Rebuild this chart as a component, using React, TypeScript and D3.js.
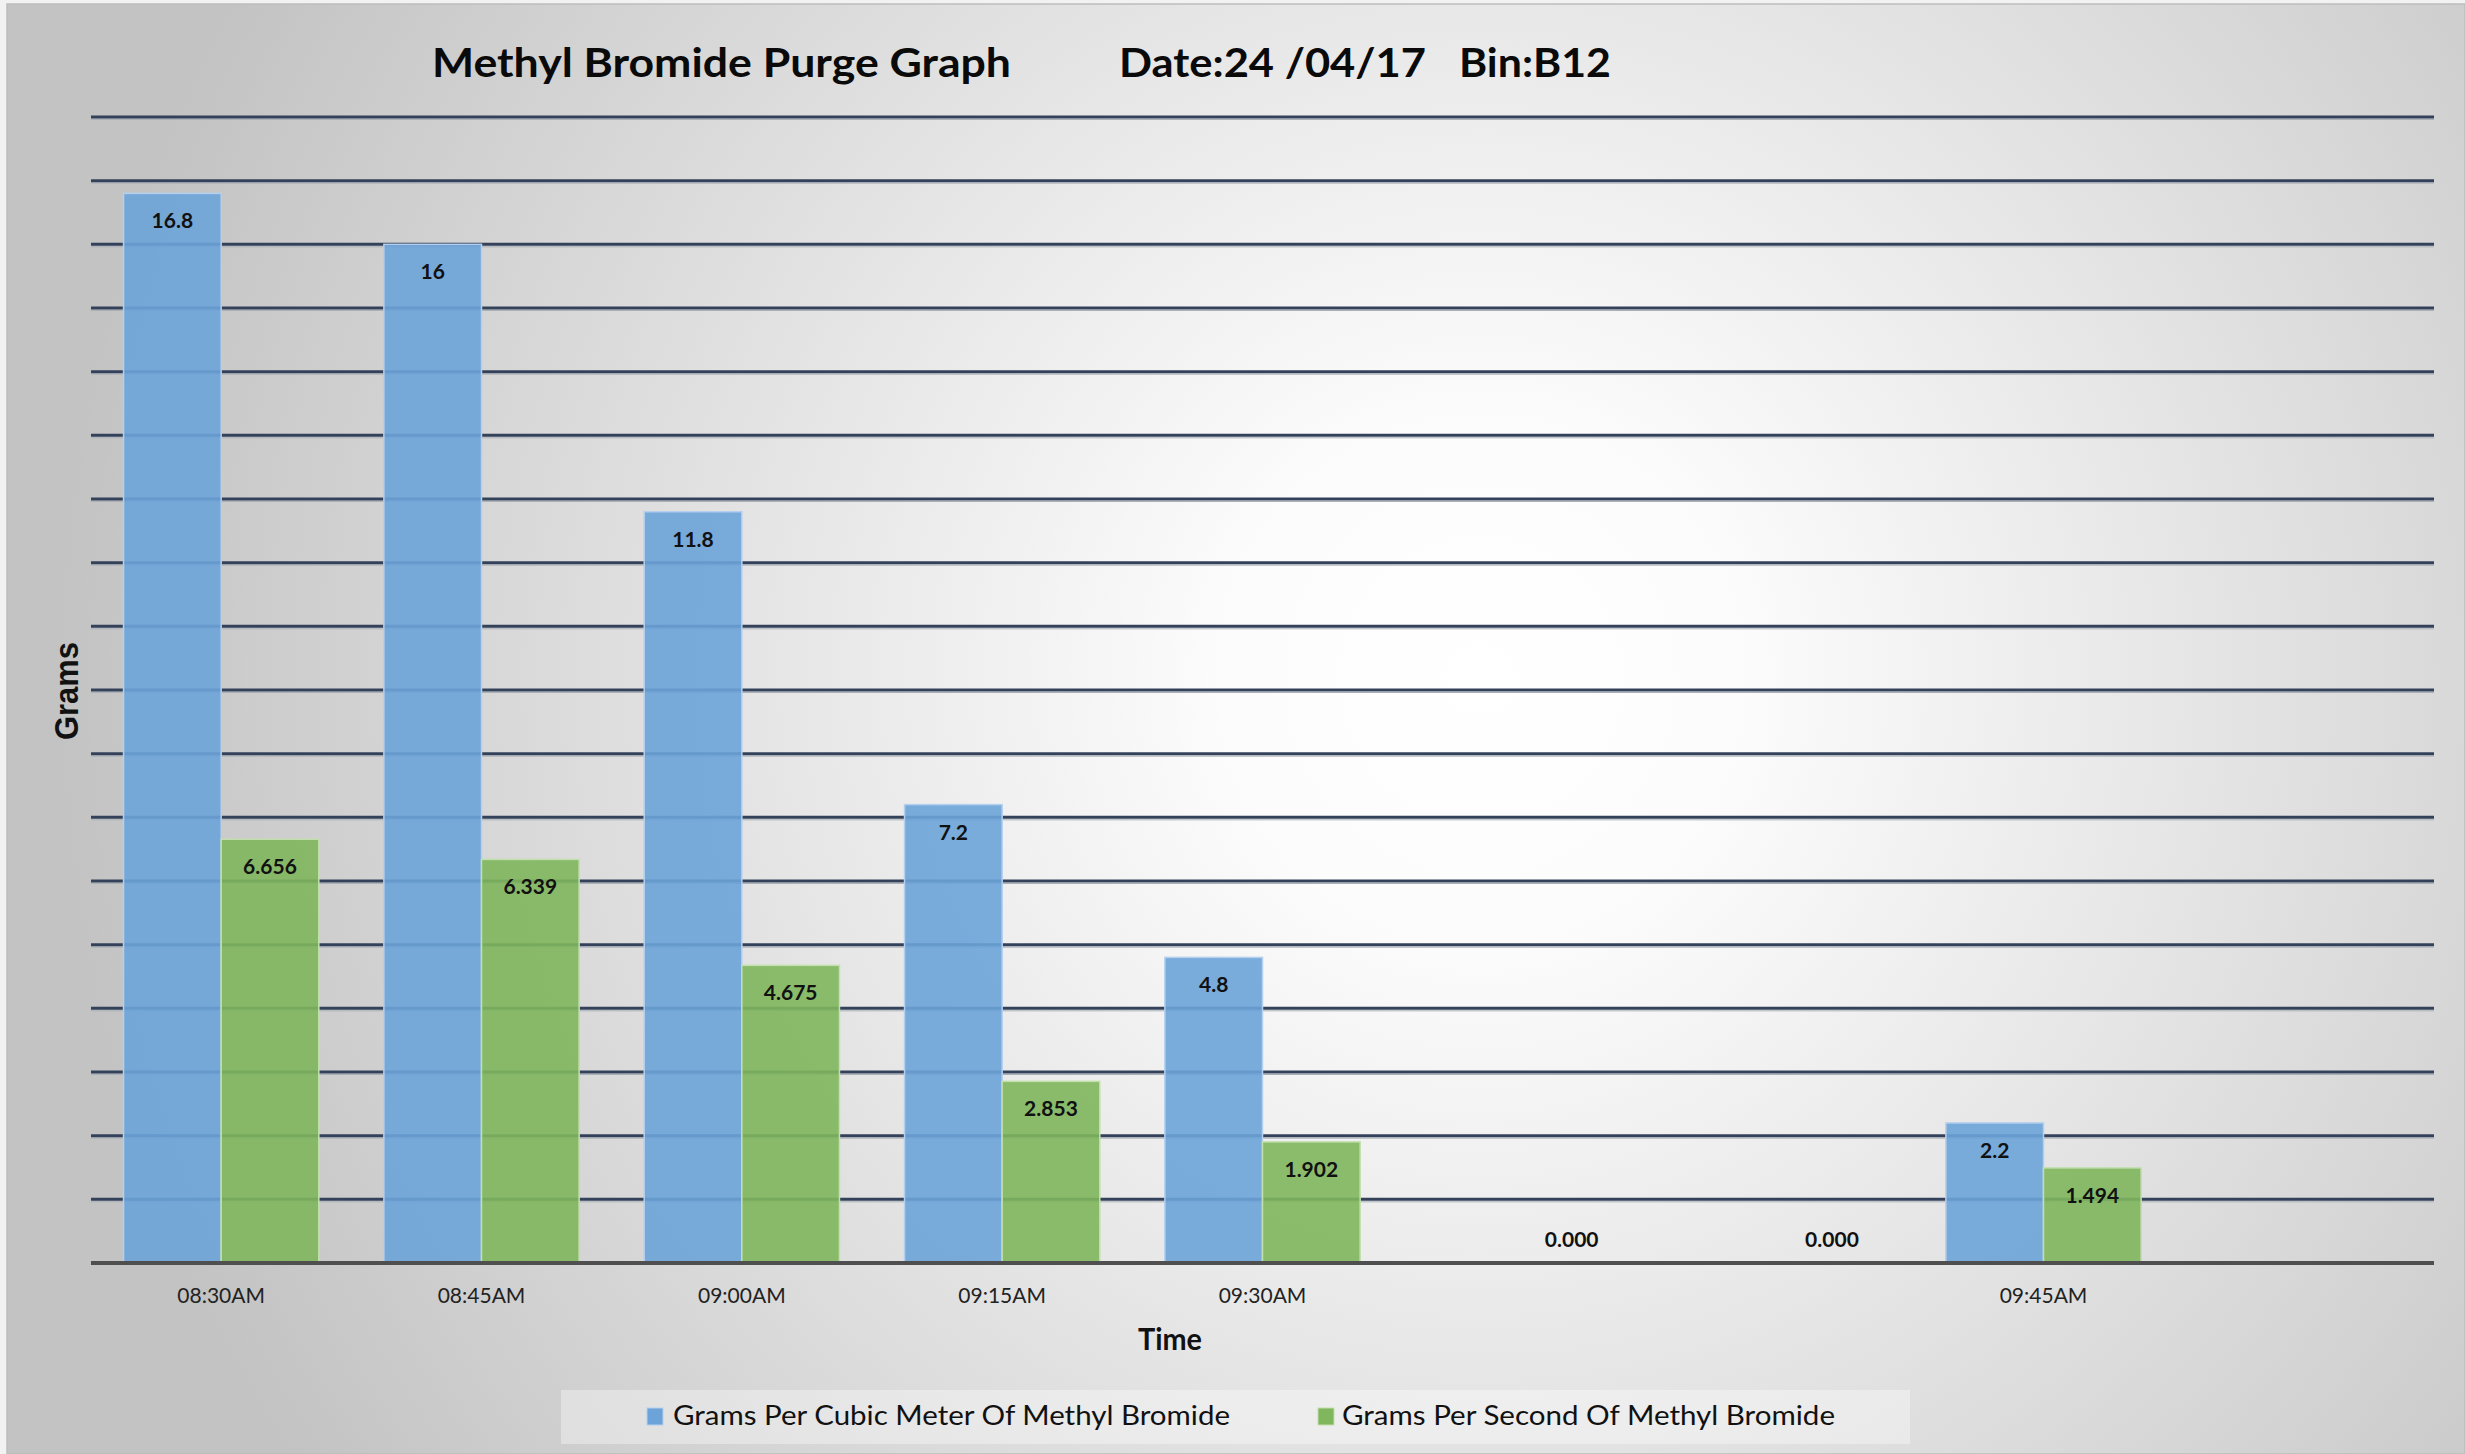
import React, { useCallback, useEffect, useRef } from "react";
import * as d3 from "d3";

// tick labels for the time axis (empty slots have no label)
const timeLabels = [
  "08:30AM",
  "08:45AM",
  "09:00AM",
  "09:15AM",
  "09:30AM",
  "",
  "",
  "09:45AM",
  "",
];

// series values, null where nothing was recorded
const perCubicMeter: Array<number | null> = [16.8, 16, 11.8, 7.2, 4.8, null, null, 2.2, null];
const perSecond: Array<number | null> = [6.656, 6.339, 4.675, 2.853, 1.902, 0, 0, 1.494, null];

const seriesNames = [
  "Grams Per Cubic Meter Of Methyl Bromide",
  "Grams Per Second Of Methyl Bromide",
];

const yTicks = d3.range(0, 19);

const W = 2465;
const H = 1454;

const BLUE = "#6ca3d8";
const GREEN = "#80b65d";

/**
 * Methyl bromide purge chart
 */
const PurgeChart = () => {
  const svgRef = useRef<SVGSVGElement>(null);

  const renderChart = useCallback(() => {
    // clear the chart before rendering it
    d3.select(svgRef.current).selectChildren().remove();

    const margin = { top: 117, right: 31, bottom: 191, left: 91 };
    const width = W - margin.left - margin.right,
      height = H - margin.top - margin.bottom;

    const root = d3.select(svgRef.current).attr("width", W).attr("height", H);

    // background gradient
    const defs = root.append("defs");
    const grad = defs
      .append("radialGradient")
      .attr("id", "bg")
      .attr("gradientUnits", "userSpaceOnUse")
      .attr("cx", 1480)
      .attr("cy", 680)
      .attr("r", 1420);
    grad.append("stop").attr("offset", 0).attr("stop-color", "#ffffff");
    grad.append("stop").attr("offset", 0.18).attr("stop-color", "#fcfcfc");
    grad.append("stop").attr("offset", 1).attr("stop-color", "#c3c3c3");

    root.append("rect").attr("width", W).attr("height", H).attr("fill", "#f2f2f2");
    root
      .append("rect")
      .attr("x", 7)
      .attr("y", 4)
      .attr("width", W - 7)
      .attr("height", H - 4)
      .attr("fill", "url(#bg)")
      .attr("stroke", "#bdbdbd")
      .attr("stroke-width", 1.5);

    const svg = root
      .append("g")
      .attr("transform", "translate(" + margin.left + "," + margin.top + ")");

    // x scales: one band per time slot, one sub band per series
    const x0 = d3
      .scaleBand<number>()
      .domain(d3.range(timeLabels.length))
      .range([0, width])
      .paddingInner(0.25)
      .paddingOuter(0.125);
    const x1 = d3
      .scaleBand<number>()
      .domain([0, 1])
      .range([0, x0.bandwidth()]);

    const y = d3.scaleLinear().domain([0, 18]).range([height, 0]);

    // gridlines
    const grid = svg.append("g");
    grid
      .selectAll("line.shadow")
      .data(yTicks.filter((t) => t > 0))
      .enter()
      .append("line")
      .attr("class", "shadow")
      .attr("x1", 0)
      .attr("x2", width)
      .attr("y1", (d) => y(d) + 2.5)
      .attr("y2", (d) => y(d) + 2.5)
      .attr("stroke", "#a9b0b8")
      .attr("stroke-width", 1);
    grid
      .selectAll("line.major")
      .data(yTicks.filter((t) => t > 0))
      .enter()
      .append("line")
      .attr("class", "major")
      .attr("x1", 0)
      .attr("x2", width)
      .attr("y1", (d) => y(d))
      .attr("y2", (d) => y(d))
      .attr("stroke", "#33425a")
      .attr("stroke-width", 3);

    // bars
    const series = [perCubicMeter, perSecond];
    const colors = [BLUE, GREEN];
    const edges = ["#b4d0ee", "#c2dfae"];

    const bars = series.flatMap((vals, s) =>
      vals.map((v, i) => ({ s, i, v }))
    );

    svg
      .append("g")
      .selectAll("rect")
      .data(bars.filter((d) => d.v !== null && (d.v as number) > 0))
      .enter()
      .append("rect")
      .attr("x", (d) => (x0(d.i) as number) + (x1(d.s) as number))
      .attr("y", (d) => y(d.v as number))
      .attr("width", x1.bandwidth())
      .attr("height", (d) => y(0) - y(d.v as number))
      .attr("fill", (d) => colors[d.s])
      .attr("fill-opacity", 0.9)
      .attr("stroke", (d) => edges[d.s])
      .attr("stroke-width", 1.5);

    // axis baseline
    svg
      .append("line")
      .attr("x1", 0)
      .attr("x2", width)
      .attr("y1", y(0))
      .attr("y2", y(0))
      .attr("stroke", "#4f4f4f")
      .attr("stroke-width", 4);

    // data labels
    svg
      .append("g")
      .selectAll("text")
      .data(bars.filter((d) => d.v !== null))
      .enter()
      .append("text")
      .attr("x", (d) => (x0(d.i) as number) + (x1(d.s) as number) + x1.bandwidth() / 2)
      .attr("y", (d) => ((d.v as number) > 0 ? y(d.v as number) + 35 : y(0) - 16))
      .attr("text-anchor", "middle")
      .attr("font-family", "Lato, 'Open Sans', sans-serif")
      .attr("font-weight", "bold")
      .attr("font-size", 21)
      .attr("fill", "#111")
      .text((d) => (d.s === 1 ? d3.format(".3f")(d.v as number) : String(d.v)));

    // time axis labels
    const xAxis = svg
      .append("g")
      .attr("transform", "translate(0," + height + ")")
      .call(
        d3
          .axisBottom(x0)
          .tickSize(0)
          .tickPadding(0)
          .tickFormat((i) => timeLabels[i as number])
      );
    xAxis.select(".domain").remove();
    xAxis
      .selectAll("text")
      .attr("y", 40)
      .attr("dy", 0)
      .attr("font-family", "Lato, 'Open Sans', sans-serif")
      .attr("font-size", 21)
      .attr("fill", "#222");

    // axis titles
    root
      .append("text")
      .attr("x", 1170)
      .attr("y", 1350)
      .attr("text-anchor", "middle")
      .attr("font-family", "Lato, sans-serif")
      .attr("font-weight", "bold")
      .attr("font-size", 30)
      .attr("textLength", 64)
      .attr("lengthAdjust", "spacingAndGlyphs")
      .attr("fill", "#111")
      .text("Time");

    root
      .append("text")
      .attr("transform", "translate(78,691) rotate(-90)")
      .attr("text-anchor", "middle")
      .attr("font-family", "'Liberation Sans', Arial, sans-serif")
      .attr("font-weight", "bold")
      .attr("font-size", 34)
      .attr("textLength", 98)
      .attr("lengthAdjust", "spacingAndGlyphs")
      .attr("fill", "#111")
      .text("Grams");

    // title pieces
    const titleParts = [
      { t: "Methyl Bromide Purge Graph", x: 432, w: 579 },
      { t: "Date:24 /04/17", x: 1119, w: 307 },
      { t: "Bin:B12", x: 1459, w: 152 },
    ];
    root
      .append("g")
      .selectAll("text")
      .data(titleParts)
      .enter()
      .append("text")
      .attr("x", (d) => d.x)
      .attr("y", 77)
      .attr("font-family", "Lato, sans-serif")
      .attr("font-weight", "bold")
      .attr("font-size", 41)
      .attr("textLength", (d) => d.w)
      .attr("lengthAdjust", "spacingAndGlyphs")
      .attr("fill", "#0a0a0a")
      .text((d) => d.t);

    // legend
    const legend = root.append("g");
    legend
      .append("rect")
      .attr("x", 561)
      .attr("y", 1390)
      .attr("width", 1349)
      .attr("height", 54)
      .attr("fill", "#ffffff")
      .attr("fill-opacity", 0.35);

    const legendItems = [
      { x: 647, tx: 673, w: 557 },
      { x: 1318, tx: 1342, w: 493 },
    ];
    legendItems.forEach((item, s) => {
      legend
        .append("rect")
        .attr("x", item.x)
        .attr("y", 1408)
        .attr("width", 16)
        .attr("height", 17)
        .attr("fill", colors[s])
        .attr("stroke", edges[s])
        .attr("stroke-width", 1);
      legend
        .append("text")
        .attr("x", item.tx)
        .attr("y", 1425)
        .attr("font-family", "Lato, sans-serif")
        .attr("font-size", 27)
        .attr("textLength", item.w)
        .attr("lengthAdjust", "spacingAndGlyphs")
        .attr("fill", "#111")
        .text(seriesNames[s]);
    });

    return svg;
  }, []);

  useEffect(() => {
    renderChart();
  }, [renderChart]);

  return (
    <svg
      ref={svgRef}
      style={{ position: "absolute", left: 0, top: 0, display: "block" }}
    ></svg>
  );
};

export default function App() {
  return <PurgeChart />;
}
